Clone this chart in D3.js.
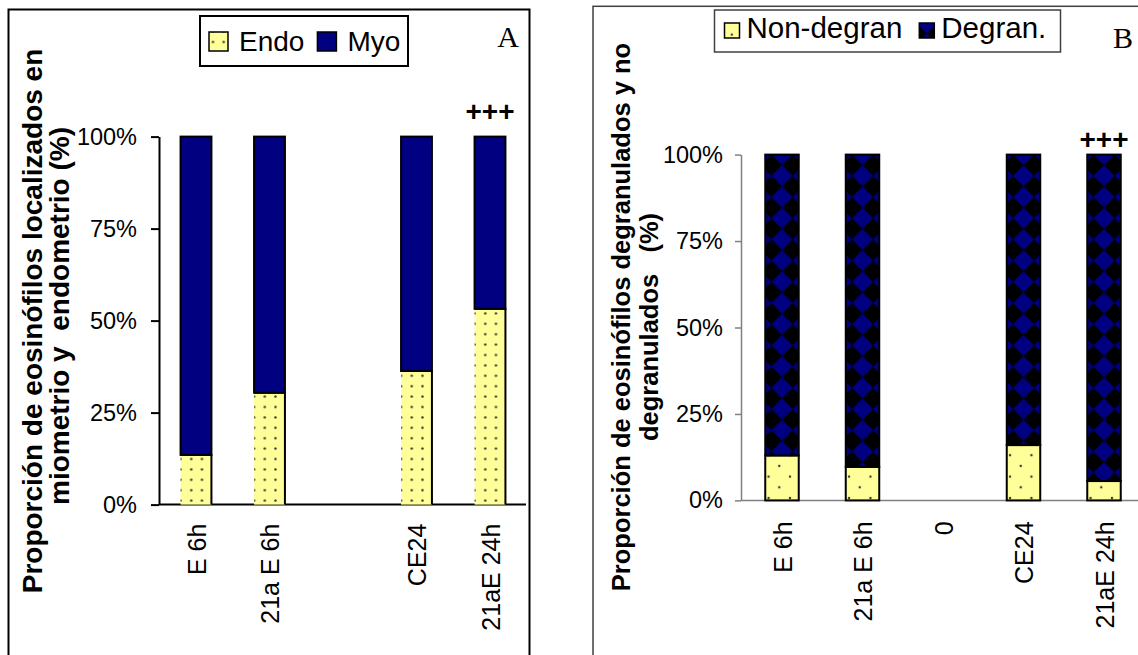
<!DOCTYPE html>
<html>
<head>
<meta charset="utf-8">
<script src="https://cdn.jsdelivr.net/npm/d3@7"></script>
<style>
  body { margin: 0; background: #fff; }
  svg { display: block; }
  text { font-family: "Liberation Sans", Arial, sans-serif; fill: #000; white-space: pre; }
</style>
</head>
<body>
<svg id="chart" width="1138" height="655"></svg>
<script>
// ---- Data -------------------------------------------------------------
// Panel A: share of eosinophils located in endometrium vs myometrium (%)
const categoriesA = ["E 6h", "21a E 6h", "", "CE24", "21aE 24h"];
const endoA = [13.5, 30.4, null, 36.3, 53.2];
const myoA  = [86.5, 69.6, null, 63.7, 46.8];
const legendA = ["Endo", "Myo"];
const titleA = ["Proporción de eosinófilos localizados en", "miometrio y  endometrio (%)"];

// Panel B: share of degranulated vs non-degranulated eosinophils (%)
const categoriesB = ["E 6h", "21a E 6h", "0", "CE24", "21aE 24h"];
const nonDegranB = [13.0, 9.7, null, 16.0, 5.6];
const degranB    = [87.0, 90.3, null, 84.0, 94.4];
const legendB = ["Non-degran", "Degran."];
const titleB = ["Proporción de eosinófilos degranulados y no", "degranulados   (%)"];

const percentTicks = [0, 25, 50, 75, 100];
const markA = { category: 4, text: "+++" };
const markB = { category: 4, text: "+++" };

// ---- Styles -----------------------------------------------------------
const YELLOW = "#FFFF99";
const NAVY = "#000080";
const DOT = "#3a3a2a";

const svg = d3.select("#chart");
const defs = svg.append("defs");

// dotted yellow fill for panel A (regular grid)
function gridDots(id, ox, oy) {
  const p = defs.append("pattern").attr("id", id)
    .attr("patternUnits", "userSpaceOnUse")
    .attr("x", ox - 5.35).attr("y", oy - 5.2)
    .attr("width", 10.7).attr("height", 10.4);
  p.append("rect").attr("width", 10.7).attr("height", 10.4).attr("fill", YELLOW);
  p.append("circle").attr("cx", 5.35).attr("cy", 5.2).attr("r", 1.25).attr("fill", DOT);
  return `url(#${id})`;
}
// sparse staggered dots for panel B
function sparseDots(id, ox, oy) {
  const s = 21.4;
  const p = defs.append("pattern").attr("id", id)
    .attr("patternUnits", "userSpaceOnUse")
    .attr("x", ox).attr("y", oy).attr("width", s).attr("height", s);
  p.append("rect").attr("width", s).attr("height", s).attr("fill", YELLOW);
  [[0, 0], [s, 0], [0, s], [s, s], [s / 2, s / 2]].forEach(([cx, cy]) =>
    p.append("circle").attr("cx", cx).attr("cy", cy).attr("r", 1.2).attr("fill", DOT));
  return `url(#${id})`;
}
// navy diamonds on black
function diamonds(id, cx, cy) {
  const s = 21.2;
  const p = defs.append("pattern").attr("id", id)
    .attr("patternUnits", "userSpaceOnUse")
    .attr("x", cx - s / 2).attr("y", cy - s / 2).attr("width", s).attr("height", s);
  p.append("rect").attr("width", s).attr("height", s).attr("fill", "#000");
  p.append("path").attr("d", `M${s / 2},0L${s},${s / 2}L${s / 2},${s}L0,${s / 2}Z`).attr("fill", NAVY);
  return `url(#${id})`;
}

// ---- Panel drawing ----------------------------------------------------
function drawPanel(cfg) {
  const g = svg.append("g");

  g.append("rect")
    .attr("x", cfg.frame[0]).attr("y", cfg.frame[1])
    .attr("width", cfg.frame[2]).attr("height", cfg.frame[3])
    .attr("fill", "#fff").attr("stroke", cfg.frameColor).attr("stroke-width", cfg.frameWidth);

  const y = d3.scaleLinear().domain([0, 100]).range(cfg.yRange);
  const x = d3.scalePoint().domain(cfg.categories.map((c, i) => i))
    .range(cfg.xRange).padding(0.5);
  const bw = x.step() * cfg.barFrac;

  // y axis
  const ya = g.append("g").attr("transform", `translate(${cfg.axisX},0)`)
    .call(d3.axisLeft(y).tickValues(percentTicks).tickFormat(d => d + "%")
      .tickSize(cfg.tick).tickSizeOuter(0).tickPadding(cfg.tickPad));
  ya.selectAll("path,line").attr("stroke", cfg.axisColor).attr("stroke-width", cfg.axisWidth);
  ya.selectAll("text").style("font-size", cfg.tickFont + "px").attr("fill", "#000");

  // x axis (category labels rotated)
  const xa = g.append("g").attr("transform", `translate(0,${y(0)})`)
    .call(d3.axisBottom(x).tickSize(0).tickSizeOuter(0).tickFormat(i => cfg.categories[i]));
  xa.select(".domain").attr("d", `M${cfg.axisX},0H${cfg.xAxisEnd}`)
    .attr("stroke", cfg.axisColor).attr("stroke-width", cfg.axisWidth);
  xa.selectAll("text")
    .attr("transform", "rotate(-90)")
    .attr("x", -cfg.labelGap).attr("y", 0).attr("dy", "0.36em")
    .attr("text-anchor", "end")
    .style("font-size", cfg.labelFont + "px").attr("fill", "#000");

  // stacked bars
  const rows = cfg.categories.map((c, i) => ({ i, lower: cfg.lower[i], upper: cfg.upper[i] }))
    .filter(d => d.lower != null);
  const stacked = d3.stack().keys(["lower", "upper"])(rows);

  const lower = stacked[0], upper = stacked[1];
  g.append("g").selectAll("g").data(lower).join("g").each(function (d) {
    const x0 = x(d.data.i) - bw / 2, y0 = y(d[0]), y1 = y(d[1]);
    const fill = cfg.lowerFill(`lo-${cfg.id}-${d.data.i}`, x0, y0);
    const sel = d3.select(this);
    sel.append("rect").attr("x", x0).attr("y", y1).attr("width", bw).attr("height", y0 - y1)
      .attr("fill", fill);
    if (cfg.openLeft) {
      sel.append("path").attr("d", `M${x0},${y1}H${x0 + bw}V${y0}`)
        .attr("fill", "none").attr("stroke", "#000").attr("stroke-width", cfg.barStroke);
    } else {
      sel.select("rect").attr("stroke", "#000").attr("stroke-width", cfg.barStroke);
    }
  });
  g.append("g").selectAll("rect").data(upper).join("rect")
    .attr("x", d => x(d.data.i) - bw / 2).attr("y", d => y(d[1]))
    .attr("width", bw).attr("height", d => y(d[0]) - y(d[1]))
    .attr("fill", d => cfg.upperFill(`up-${cfg.id}-${d.data.i}`, x(d.data.i), y(d[1])))
    .attr("stroke", "#000").attr("stroke-width", cfg.barStroke);

  // significance mark
  g.append("text").attr("x", x(cfg.mark.category)).attr("y", cfg.markY)
    .attr("text-anchor", "middle").style("font-size", "28px").style("font-weight", "bold")
    .text(cfg.mark.text);

  // panel letter
  g.append("text").attr("x", cfg.letterX).attr("y", cfg.letterY).attr("text-anchor", "middle")
    .style("font-family", "'Liberation Serif', 'Times New Roman', serif").style("font-size", "30px")
    .text(cfg.letter);

  // axis title (two rotated lines)
  cfg.title.forEach((t, k) => {
    g.append("text")
      .attr("transform", `translate(${cfg.titlePos[k][0]},${cfg.titlePos[k][1]}) rotate(-90)`)
      .attr("text-anchor", "middle").style("font-size", cfg.titleFont + "px").style("font-weight", "bold")
      .text(t);
  });

  // legend
  const L = cfg.legend;
  const lg = g.append("g");
  lg.append("rect").attr("x", L.box[0]).attr("y", L.box[1]).attr("width", L.box[2]).attr("height", L.box[3])
    .attr("fill", "#fff").attr("stroke", L.stroke).attr("stroke-width", L.strokeWidth);
  let cx = L.box[0] + L.pad;
  cfg.legendNames.forEach((name, k) => {
    const sy = L.swatchY;
    lg.append("rect").attr("x", cx).attr("y", sy).attr("width", L.swatch).attr("height", L.swatch)
      .attr("fill", k === 0 ? cfg.lowerFill(`lg-${cfg.id}-${k}`, cx + 4, sy + 14) : cfg.upperFill(`lg-${cfg.id}-${k}`, cx + L.swatch / 2, sy))
      .attr("stroke", "#000").attr("stroke-width", 1.5);
    const t = lg.append("text").attr("x", cx + L.swatch + L.gap).attr("y", L.baseline)
      .style("font-size", L.font + "px").text(name);
    cx += L.swatch + L.gap + t.node().getComputedTextLength() + L.sep;
  });
}

drawPanel({
  id: "a",
  frame: [8.5, 9.5, 521, 700], frameColor: "#000", frameWidth: 2,
  categories: categoriesA, lower: endoA, upper: myoA,
  yRange: [504.6, 136.6], xRange: [159.25, 526.75], axisX: 159, xAxisEnd: 526,
  barFrac: 0.42, barStroke: 2, openLeft: true,
  tick: 8, tickPad: 14, tickFont: 23.5, axisColor: "#000", axisWidth: 2,
  labelFont: 25, labelGap: 19,
  lowerFill: (id, x0, y0) => gridDots(id, x0, y0 - 4),
  upperFill: () => NAVY,
  mark: markA, markY: 121,
  letter: "A", letterX: 508, letterY: 47,
  title: titleA, titleFont: 28, titlePos: [[42, 321], [69, 316]],
  legendNames: legendA,
  legend: { box: [200, 16, 208, 50], stroke: "#000", strokeWidth: 2, pad: 9, swatch: 19, swatchY: 32,
            gap: 11, sep: 13, baseline: 51, font: 28 }
});

drawPanel({
  id: "b",
  frame: [593, 6.3, 600, 700], frameColor: "#404040", frameWidth: 1.5,
  categories: categoriesB, lower: nonDegranB, upper: degranB,
  yRange: [500.4, 154.6], xRange: [741.75, 1144.25], axisX: 741, xAxisEnd: 1144,
  barFrac: 0.416, barStroke: 2, openLeft: false,
  tick: 6, tickPad: 12, tickFont: 23.5, axisColor: "#808080", axisWidth: 1.5,
  labelFont: 25, labelGap: 21,
  lowerFill: (id, x0, y0) => sparseDots(id, x0 + 3.3, y0 - 2.4),
  upperFill: (id, cx, top) => diamonds(id, cx, top),
  mark: markB, markY: 149,
  letter: "B", letterX: 1123, letterY: 48,
  title: titleB, titleFont: 25.5, titlePos: [[630, 317], [658, 327]],
  legendNames: legendB,
  legend: { box: [714.5, 10, 346, 42], stroke: "#404040", strokeWidth: 1.5, pad: 10, swatch: 15, swatchY: 23,
            gap: 7, sep: 17, baseline: 38, font: 29.5 }
});
</script>
</body>
</html>
